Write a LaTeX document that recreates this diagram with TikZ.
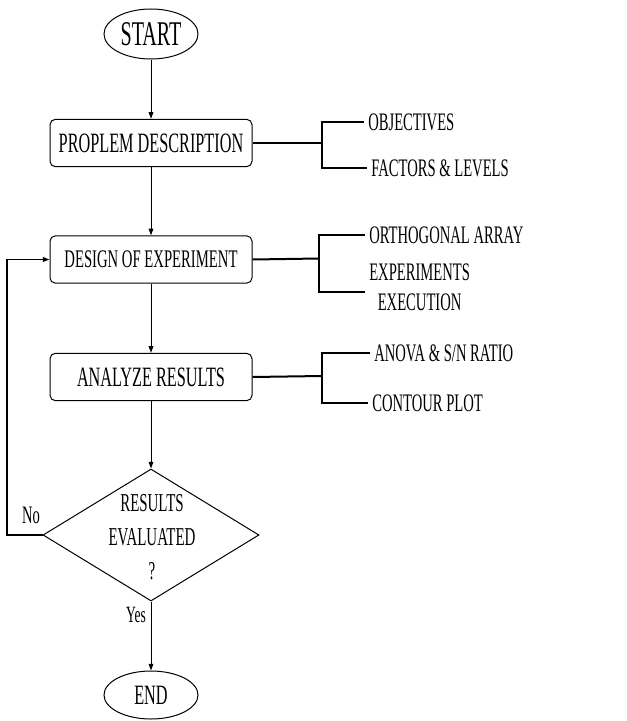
\documentclass[tikz,border=0pt]{standalone}
\usepackage{fontspec}
\setmainfont{Liberation Serif}[FakeStretch=0.58]
\usetikzlibrary{shapes.geometric,arrows.meta}

\tikzset{
  terminal/.style={draw, ellipse, line width=0.75pt, inner sep=0pt, minimum width=70.5pt, minimum height=37.5pt},
  process/.style={draw, rounded corners=4pt, line width=0.75pt, inner sep=0pt, minimum width=151.5pt, minimum height=35.5pt, font=\fontsize{21pt}{24pt}\selectfont},
  decision/.style={draw, diamond, line width=0.75pt, inner sep=0pt, minimum width=162pt, minimum height=99pt},
  flow/.style={line width=0.75pt, -{Triangle[length=5pt,width=3.5pt]}},
  brace/.style={line width=1.5pt},
  side/.style={anchor=west, inner sep=3pt, font=\fontsize{18.9pt}{22.5pt}\selectfont},
}

\begin{document}
\begin{tikzpicture}[x=0.75pt,y=0.75pt,yscale=-1,xscale=1]
\useasboundingbox (0,0) rectangle (627,721);
%Shape: Ellipse [start]
\node [terminal, font=\fontsize{26pt}{30pt}\selectfont] (start) at (151,34) {START};
%Shape: Rectangle [problem]
\node [process] (prob) at (151,143) {PROPLEM DESCRIPTION};
%Shape: Rectangle [design]
\node [process, font=\fontsize{19pt}{22pt}\selectfont] (design) at (151,259.5) {DESIGN OF EXPERIMENT};
%Shape: Rectangle [analyze]
\node [process] (analyze) at (151,377) {ANALYZE RESULTS};
%Shape: Diamond [evaluate]
\node [decision] (eval) at (151,535) {};
% Text Node
\node [align=center, inner sep=0pt, font=\fontsize{19.3pt}{25.5pt}\selectfont] (evaltxt) at (152,537) {RESULTS\\EVALUATED\\?};
%Shape: Ellipse [end]
\node [terminal, minimum height=36pt, font=\fontsize{21pt}{25pt}\selectfont] (end) at (151,695) {END};

% Text Node
\node [side] (obj) at (364,122) {OBJECTIVES};
% Text Node
\node [side] (fac) at (367,168) {FACTORS \& LEVELS};
% Text Node
\node [side] (ortho) at (365,235) {ORTHOGONAL ARRAY};
% Text Node
\node [side, align=center] (exe) at (365,287) {EXPERIMENTS\\EXECUTION};
% Text Node
\node [side] (anova) at (370,353) {ANOVA \& S/N RATIO};
% Text Node
\node [side] (contour) at (368,403) {CONTOUR PLOT};
% Text Node
\node [inner sep=0pt, font=\fontsize{18.8pt}{22pt}\selectfont] (no) at (31,515) {No};
% Text Node
\node [inner sep=0pt, font=\fontsize{17.5pt}{22pt}\selectfont] (yes) at (136,615) {Yes};

%Straight Lines [main flow]
\draw [flow] (start) -- (prob);
\draw [flow] (prob) -- (design);
\draw [flow] (design) -- (analyze);
\draw [flow] (analyze) -- (eval.north);
\draw [flow] (eval.south) -- (end);

%Straight Lines [feedback]
\coordinate (fb) at (7,535);
\draw [flow, line width=1.2pt] (eval.west) -- (fb) |- (design.west);

%Straight Lines [brackets]
\coordinate (pj) at (322,143);
\draw [brace] (prob.east) -- (pj);
\draw [brace] (obj.west) -| (pj) |- (fac.west);
\coordinate (dj) at (319,258.5);
\draw [brace] (design.east) -- (dj);
\draw [brace] (ortho.west) -| (dj) |- ([yshift=3.75pt]exe.west);
\coordinate (aj) at (322,376);
\draw [brace] (analyze.east) -- (aj);
\draw [brace] (anova.west) -| (aj) |- (contour.west);
\end{tikzpicture}
\end{document}
